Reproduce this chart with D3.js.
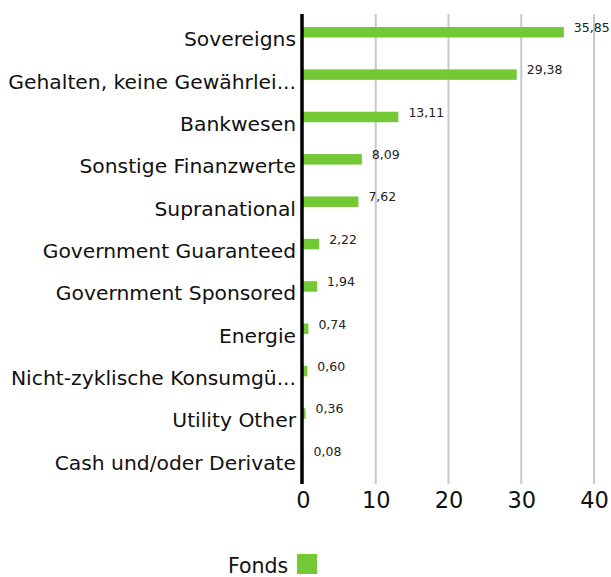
<!DOCTYPE html>
<html>
<head>
<meta charset="utf-8">
<script src="https://cdn.jsdelivr.net/npm/d3@7"></script>
<style>
  body { margin: 0; background: #fff; }
  svg { display: block; font-family: "DejaVu Sans", sans-serif; }
</style>
</head>
<body>
<div id="chart"></div>
<script>
const categories = [
  "Sovereigns",
  "Gehalten, keine Gewährlei...",
  "Bankwesen",
  "Sonstige Finanzwerte",
  "Supranational",
  "Government Guaranteed",
  "Government Sponsored",
  "Energie",
  "Nicht-zyklische Konsumgü...",
  "Utility Other",
  "Cash und/oder Derivate"
];
const fondsValues = [35.85, 29.38, 13.11, 8.09, 7.62, 2.22, 1.94, 0.74, 0.60, 0.36, 0.08];
const xTicks = [0, 10, 20, 30, 40];
const seriesName = "Fonds";

(() => {
  const W = 611, H = 577;
  const green = "#72c935";
  const svg = d3.select("#chart").append("svg")
    .attr("width", W).attr("height", H);

  const plot = { left: 303, right: 594, top: 14, bottom: 484 };

  const x = d3.scaleLinear().domain([0, 40]).range([plot.left, plot.right]);
  const y = d3.scaleBand().domain(categories).range([12, 478]);

  const data = categories.map((c, i) => ({ cat: c, val: fondsValues[i] }));

  // gridlines
  svg.append("g").selectAll("line")
    .data(xTicks.filter(t => t > 0))
    .join("line")
    .attr("x1", d => x(d)).attr("x2", d => x(d))
    .attr("y1", plot.top).attr("y2", plot.bottom)
    .attr("stroke", "#c8c8c8").attr("stroke-width", 2);

  // bars
  const barH = 10.5;
  svg.append("g").selectAll("rect")
    .data(data)
    .join("rect")
    .attr("x", x(0))
    .attr("y", d => y(d.cat) + 15)
    .attr("width", d => x(d.val) - x(0))
    .attr("height", barH)
    .attr("fill", green);

  // value labels
  svg.append("g").selectAll("text")
    .data(data)
    .join("text")
    .attr("x", d => x(d.val) + 10)
    .attr("y", d => y(d.cat) + 20)
    .attr("font-size", 12.5)
    .attr("fill", "#222")
    .text(d => d3.format(".2f")(d.val).replace(".", ","));

  // category labels
  svg.append("g").selectAll("text")
    .data(categories)
    .join("text")
    .attr("x", 296)
    .attr("y", d => y(d) + y.bandwidth() / 2 + 13)
    .attr("text-anchor", "end")
    .attr("font-size", 20.3)
    .attr("fill", "#111")
    .text(d => d);

  // zero axis line
  svg.append("line")
    .attr("x1", x(0) - 1).attr("x2", x(0) - 1)
    .attr("y1", plot.top).attr("y2", plot.bottom)
    .attr("stroke", "#000").attr("stroke-width", 3.5);

  // x axis
  const xAxis = svg.append("g")
    .attr("transform", `translate(0,${plot.bottom})`)
    .call(d3.axisBottom(x).tickValues(xTicks).tickSize(0).tickPadding(8));
  xAxis.select(".domain").remove();
  xAxis.selectAll("text")
    .attr("font-family", "\"DejaVu Sans\", sans-serif")
    .attr("font-size", 22.5)
    .attr("fill", "#111");

  // legend
  const legend = svg.append("g");
  legend.append("text")
    .attr("x", 228).attr("y", 573)
    .attr("font-size", 20.5)
    .attr("fill", "#111")
    .text(seriesName);
  legend.append("rect")
    .attr("x", 297).attr("y", 554)
    .attr("width", 20).attr("height", 20)
    .attr("fill", green);
})();
</script>
</body>
</html>
